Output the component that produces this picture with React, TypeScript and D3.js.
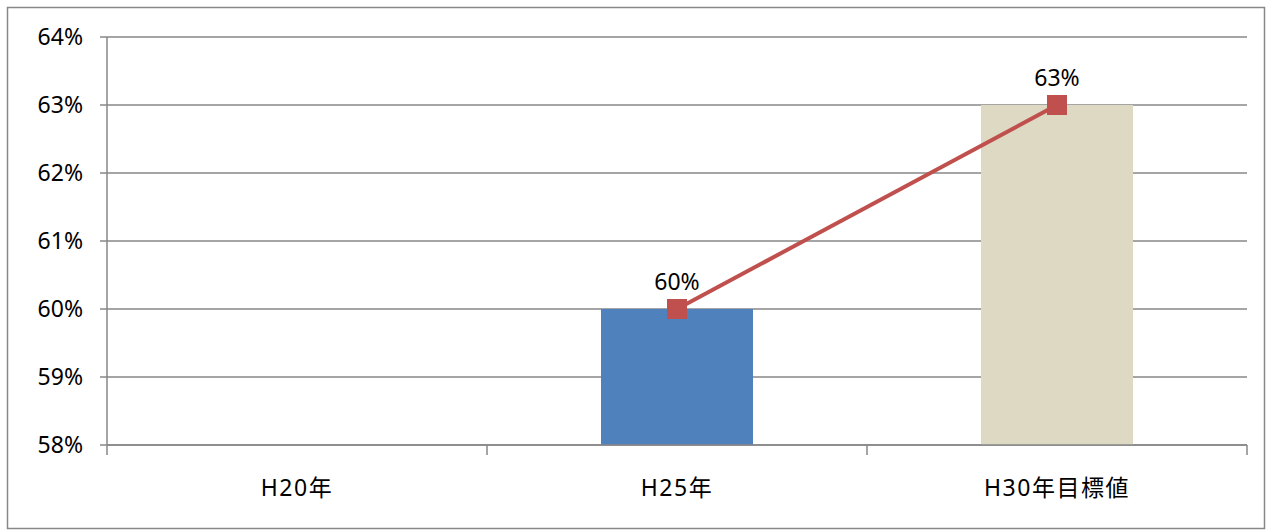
import React from "react";
import * as d3 from "d3";

const categories = ["H20年", "H25年", "H30年目標値"];
const barValues: (number | null)[] = [null, 60, 63];
const lineValues: (number | null)[] = [null, 60, 63];
const barColors = ["#4F81BD", "#4F81BD", "#DDD9C3"];
const yTicks = [58, 59, 60, 61, 62, 63, 64];

const W = 1267;
const H = 530;
const left = 107;
const right = 1247;
const top = 37;
const bottom = 445;
const FONT = "'Noto Sans', 'Noto Sans CJK JP', sans-serif";
const GRID = "#878787";

export default function App() {
  const x = d3.scaleBand<string>().domain(categories).range([left, right]).paddingInner(0).paddingOuter(0);
  const y = d3.scaleLinear().domain([58, 64]).range([bottom, top]);
  const bw = x.bandwidth() * 0.4;
  const linePts = categories
    .map((c, i) => ({ c, v: lineValues[i] }))
    .filter((d) => d.v != null) as { c: string; v: number }[];
  const line = d3
    .line<{ c: string; v: number }>()
    .x((d) => (x(d.c) as number) + x.bandwidth() / 2)
    .y((d) => y(d.v));
  const bounds = [...categories.map((c) => x(c) as number), right];

  return (
    <div style={{ position: "absolute", left: 0, top: 0 }}>
      <svg width={W} height={H} style={{ display: "block" }}>
        <rect x={0} y={0} width={W} height={H} fill="#fff" />
        <rect x={7.5} y={7.5} width={1257} height={521} fill="none" stroke={GRID} strokeWidth={1.5} />
        {yTicks.map((t) => (
          <g key={t}>
            <line x1={100} x2={right} y1={y(t)} y2={y(t)} stroke={GRID} strokeWidth={1.5} />
            <text x={83} y={y(t)} dy="0.36em" textAnchor="end" fontFamily={FONT} fontSize={23} fill="#000">
              {t}%
            </text>
          </g>
        ))}
        {categories.map((c, i) => {
          const v = barValues[i];
          if (v == null) return null;
          const cx = (x(c) as number) + x.bandwidth() / 2;
          return <rect key={c} x={cx - bw / 2} y={y(v)} width={bw} height={bottom - y(v)} fill={barColors[i]} />;
        })}
        <line x1={left} x2={left} y1={top} y2={bottom} stroke={GRID} strokeWidth={1.5} />
        <line x1={left} x2={right} y1={bottom} y2={bottom} stroke={GRID} strokeWidth={1.5} />
        {bounds.map((b, i) => (
          <line key={i} x1={b} x2={b} y1={bottom} y2={455} stroke={GRID} strokeWidth={1.5} />
        ))}
        {categories.map((c) => (
          <text
            key={c}
            x={(x(c) as number) + x.bandwidth() / 2}
            y={488}
            dy="0.36em"
            textAnchor="middle"
            fontFamily={FONT}
            fontSize={23}
            letterSpacing={1.5}
            fill="#000"
          >
            {c}
          </text>
        ))}
        <path d={line(linePts) || ""} fill="none" stroke="#C0504D" strokeWidth={4} />
        {linePts.map((d) => {
          const cx = (x(d.c) as number) + x.bandwidth() / 2;
          const cy = y(d.v);
          return (
            <g key={d.c}>
              <rect x={cx - 10} y={cy - 10} width={20} height={20} fill="#C0504D" />
              <text x={cx} y={cy - 27} dy="0.36em" textAnchor="middle" fontFamily={FONT} fontSize={23} fill="#000">
                {d.v}%
              </text>
            </g>
          );
        })}
      </svg>
    </div>
  );
}
